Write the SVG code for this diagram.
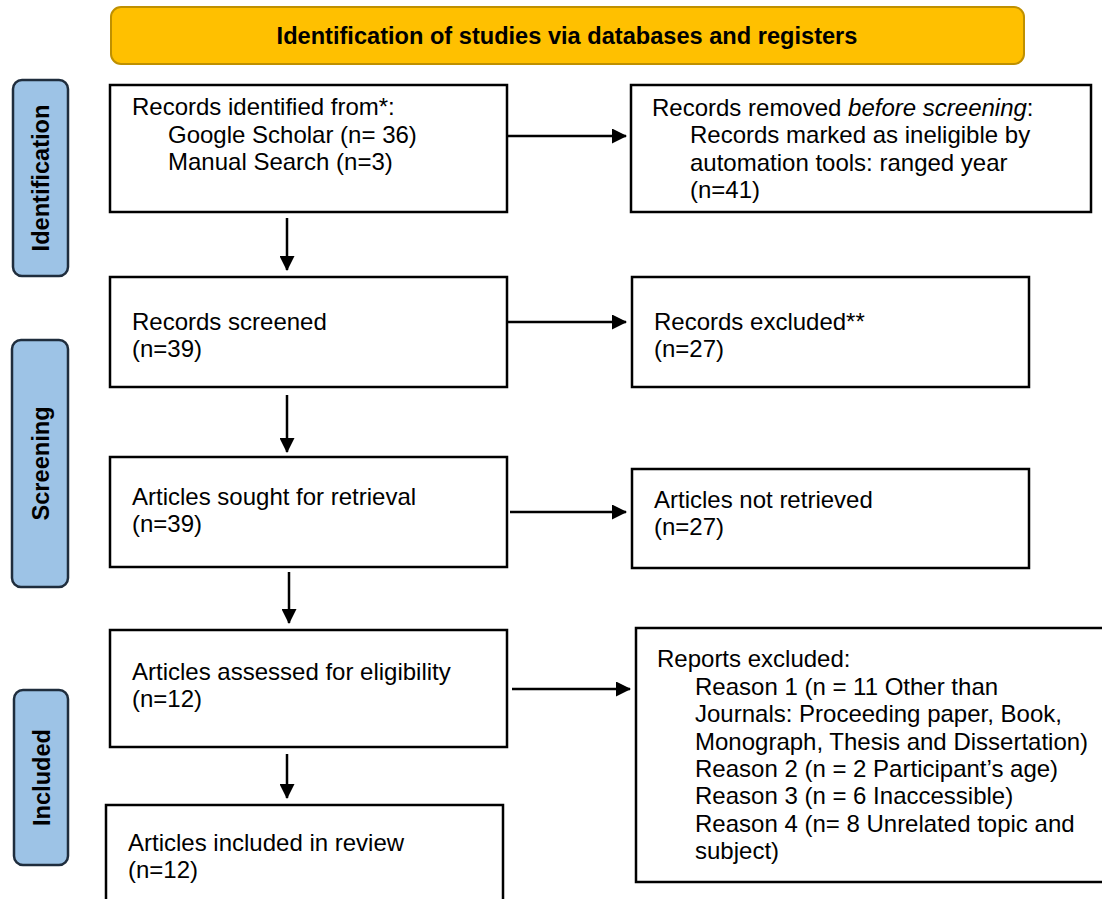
<svg xmlns="http://www.w3.org/2000/svg" width="1102" height="899" viewBox="0 0 1102 899">
<style>
.bg{fill:#ffffff}
.box{fill:#ffffff;stroke:#000000;stroke-width:2.5}
.banner{fill:#FFC000;stroke:#BF9000;stroke-width:2}
.side{fill:#9DC3E6;stroke:#1F2D3D;stroke-width:2.5}
.t{font-family:"Liberation Sans",Arial,sans-serif;font-size:24px;fill:#000000}
.b{font-family:"Liberation Sans",Arial,sans-serif;font-size:23.6px;font-weight:bold;fill:#000000}
.c{stroke:#000000;stroke-width:2.5;fill:none}
</style>
<defs>
<marker id="ah" markerWidth="6" markerHeight="6" refX="5.6" refY="3" orient="auto" markerUnits="strokeWidth">
<path d="M0,0 L6,3 L0,6 Z" fill="#000000"/>
</marker>
</defs>
<rect class="bg" x="0" y="0" width="1102" height="899"/>

<g id="banner">
<rect class="banner" x="111" y="7" width="913" height="57" rx="10"/>
<text class="b" x="567" y="44" text-anchor="middle">Identification of studies via databases and registers</text>
</g>

<g id="label-identification">
<rect class="side" x="13" y="80" width="55" height="196" rx="9"/>
<text class="b" transform="translate(48.5,178) rotate(-90)" text-anchor="middle">Identification</text>
</g>
<g id="label-screening">
<rect class="side" x="12" y="340" width="56" height="247" rx="9"/>
<text class="b" transform="translate(48.5,463.5) rotate(-90)" text-anchor="middle">Screening</text>
</g>
<g id="label-included">
<rect class="side" x="14" y="690" width="54" height="175" rx="9"/>
<text class="b" transform="translate(49.5,777.5) rotate(-90)" text-anchor="middle">Included</text>
</g>

<g id="records-identified">
<rect class="box" x="110" y="85" width="397" height="127"/>
<text class="t" x="132" y="115">Records identified from*:</text>
<text class="t" x="168" y="143">Google Scholar (n= 36)</text>
<text class="t" x="168" y="170">Manual Search (n=3)</text>
</g>

<g id="records-removed">
<rect class="box" x="631" y="85" width="460" height="127"/>
<text class="t" x="652" y="116">Records removed <tspan font-style="italic">before screening</tspan>:</text>
<text class="t" x="690" y="143">Records marked as ineligible by</text>
<text class="t" x="690" y="171">automation tools: ranged year</text>
<text class="t" x="690" y="198">(n=41)</text>
</g>

<g id="records-screened">
<rect class="box" x="110" y="277" width="397" height="110"/>
<text class="t" x="132" y="330">Records screened</text>
<text class="t" x="132" y="357">(n=39)</text>
</g>

<g id="records-excluded">
<rect class="box" x="632" y="277" width="397" height="110"/>
<text class="t" x="654" y="330">Records excluded**</text>
<text class="t" x="654" y="357">(n=27)</text>
</g>

<g id="articles-sought">
<rect class="box" x="110" y="457" width="397" height="110"/>
<text class="t" x="132" y="505">Articles sought for retrieval</text>
<text class="t" x="132" y="532">(n=39)</text>
</g>

<g id="articles-not-retrieved">
<rect class="box" x="632" y="469" width="397" height="99"/>
<text class="t" x="654" y="508">Articles not retrieved</text>
<text class="t" x="654" y="535">(n=27)</text>
</g>

<g id="articles-assessed">
<rect class="box" x="110" y="630" width="397" height="117"/>
<text class="t" x="132" y="680">Articles assessed for eligibility</text>
<text class="t" x="132" y="707">(n=12)</text>
</g>

<g id="reports-excluded">
<rect class="box" x="636" y="628" width="480" height="254"/>
<text class="t" x="657" y="667">Reports excluded:</text>
<text class="t" x="695" y="695">Reason 1 (n = 11 Other than</text>
<text class="t" x="695" y="722">Journals: Proceeding paper, Book,</text>
<text class="t" x="695" y="750">Monograph, Thesis and Dissertation)</text>
<text class="t" x="695" y="777">Reason 2 (n = 2 Participant’s age)</text>
<text class="t" x="695" y="804">Reason 3 (n = 6 Inaccessible)</text>
<text class="t" x="695" y="832">Reason 4 (n= 8 Unrelated topic and</text>
<text class="t" x="695" y="859">subject)</text>
</g>

<g id="articles-included">
<rect class="box" x="106" y="805" width="397" height="110"/>
<text class="t" x="128" y="851">Articles included in review</text>
<text class="t" x="128" y="878">(n=12)</text>
</g>

<g id="connectors">
<line class="c" x1="287" y1="218" x2="287" y2="270" marker-end="url(#ah)"/>
<line class="c" x1="287" y1="395" x2="287" y2="452" marker-end="url(#ah)"/>
<line class="c" x1="289" y1="572" x2="289" y2="623" marker-end="url(#ah)"/>
<line class="c" x1="287" y1="754" x2="287" y2="798" marker-end="url(#ah)"/>
<line class="c" x1="507" y1="136" x2="626" y2="136" marker-end="url(#ah)"/>
<line class="c" x1="507" y1="322" x2="626" y2="322" marker-end="url(#ah)"/>
<line class="c" x1="510" y1="512" x2="626" y2="512" marker-end="url(#ah)"/>
<line class="c" x1="512" y1="689" x2="630" y2="689" marker-end="url(#ah)"/>
</g>
</svg>
